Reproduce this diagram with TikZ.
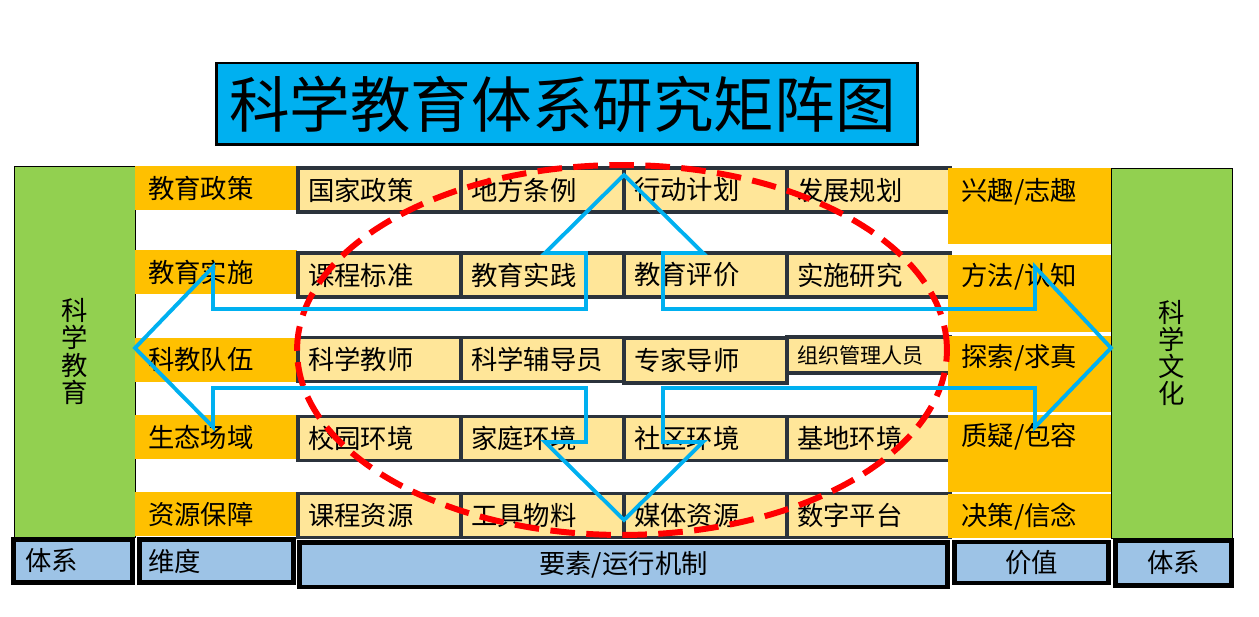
\documentclass[tikz,border=0pt]{standalone}
\usepackage{fontspec}
\setmainfont{Noto Sans CJK SC}
\definecolor{titleblue}{HTML}{00B0F0}
\definecolor{sysgreen}{HTML}{92D050}
\definecolor{dimorange}{HTML}{FFC000}
\definecolor{cellfill}{HTML}{FFE699}
\definecolor{cellline}{HTML}{2B333C}
\definecolor{baseblue}{HTML}{9DC3E6}
\begin{document}
\begin{tikzpicture}[x=0.02cm, y=-0.02cm]
    \tikzstyle{headbox}=[draw, line width=1.7pt, fill=titleblue, minimum height=1.64cm, text width=13.52cm, inner xsep=0.26cm, align=left, font=\fontsize{34.5}{36}\selectfont]
    \tikzstyle{sysbox}=[draw, line width=0.5pt, fill=sysgreen, minimum width=2.42cm, align=center, font=\fontsize{15}{15.5}\selectfont]
    \tikzstyle{dimbox}=[fill=dimorange, minimum height=0.88cm, text width=2.72cm, inner xsep=0.26cm, inner ysep=0pt, align=left, font=\fontsize{15}{15}\selectfont]
    \tikzstyle{cell}=[draw=cellline, line width=2pt, fill=cellfill, minimum height=0.88cm, text width=2.86cm, inner xsep=0.2cm, inner ysep=0pt, align=left, font=\fontsize{15}{15}\selectfont]
    \tikzstyle{valbox}=[fill=dimorange, minimum width=3.26cm, inner sep=0pt]
    \tikzstyle{valtext}=[anchor=west, inner sep=0.08cm, font=\fontsize{15}{15}\selectfont]
    \tikzstyle{footbox}=[draw, line width=2.8pt, fill=baseblue, inner ysep=0pt, font=\fontsize{15}{15}\selectfont]
    \tikzstyle{ring}=[draw=red, line width=3.4pt, dash pattern=on 14pt off 6.5pt]
    \tikzstyle{quad}=[draw=titleblue, line width=2.2pt, line join=miter]

    \useasboundingbox[fill=white] (0,0) rectangle (1259,617);

    \node[headbox] (head) at (567,104) {科学教育体系研究矩阵图};

    \node[sysbox, minimum height=7.42cm] (edu) at (74.5,351.5) {科\\学\\教\\育};
    \node[sysbox, minimum height=7.4cm] (cult) at (1171.5,353) {科\\学\\文\\化};

    \node[dimbox] (policy) at (216,188) {教育政策};
    \node[dimbox] (practice) at (216,272) {教育实施};
    \node[dimbox] (team) at (216,360) {科教队伍};
    \node[dimbox] (field) at (216,437) {生态场域};
    \node[dimbox] (resource) at (216,514.5) {资源保障};

    \node[cell] (p1) at (379.5,190) {国家政策};
    \node[cell] (p2) at (542.5,190) {地方条例};
    \node[cell] (p3) at (705.5,190) {行动计划};
    \node[cell] (p4) at (868.5,190) {发展规划};

    \node[cell] (s1) at (379.5,275) {课程标准};
    \node[cell] (s2) at (542.5,275) {教育实践};
    \node[cell] (s3) at (705.5,275) {教育评价};
    \node[cell] (s4) at (868.5,275) {实施研究};

    \node[cell] (t1) at (379.5,359.5) {科学教师};
    \node[cell] (t2) at (542.5,359.5) {科学辅导员};
    \node[cell, minimum height=0.9cm] (t3) at (705.5,360.5) {专家导师};
    \node[cell, minimum height=0.72cm, font=\fontsize{12}{12}\selectfont] (t4) at (868.5,355) {组织管理人员};

    \node[cell] (f1) at (379.5,438.5) {校园环境};
    \node[cell] (f2) at (542.5,438.5) {家庭环境};
    \node[cell] (f3) at (705.5,438.5) {社区环境};
    \node[cell] (f4) at (868.5,438.5) {基地环境};

    \node[cell] (r1) at (379.5,515.5) {课程资源};
    \node[cell] (r2) at (542.5,515.5) {工具物料};
    \node[cell] (r3) at (705.5,515.5) {媒体资源};
    \node[cell] (r4) at (868.5,515.5) {数字平台};

    \node[valbox, minimum height=1.52cm] (v1) at (1029.5,206) {};
    \node[valbox, minimum height=1.54cm] (v2) at (1029.5,293.5) {};
    \node[valbox, minimum height=1.52cm] (v3) at (1029.5,374) {};
    \node[valbox, minimum height=1.54cm] (v4) at (1029.5,453.5) {};
    \node[valbox, minimum height=0.88cm] (v5) at (1029.5,516) {};
    \node[valtext] (interest) at (957,192) {兴趣/志趣};
    \node[valtext] (method) at (957,277) {方法/认知};
    \node[valtext] (explore) at (957,358) {探索/求真};
    \node[valtext] (doubt) at (957,437) {质疑/包容};
    \node[valtext] (belief) at (957,517) {决策/信念};

    \node[footbox, minimum height=0.86cm, text width=1.92cm, inner xsep=0.23cm, align=left] (sysl) at (73,561) {体系};
    \node[footbox, minimum height=0.86cm, text width=2.74cm, inner xsep=0.17cm, align=left] (dims) at (216.5,561) {维度};
    \node[footbox, minimum width=12.96cm, minimum height=0.89cm] (elem) at (623.5,564.75) {要素/运行机制};
    \node[footbox, minimum width=3.08cm, minimum height=0.82cm] (value) at (1031.5,562.5) {价值};
    \node[footbox, minimum width=2.32cm, minimum height=0.9cm] (sysr) at (1173.5,563) {体系};

    \draw[ring] (622,350) ellipse [x radius=6.5cm, y radius=3.7cm];

    \draw[quad] (624,175) -- (703,253) -- (663,253) -- (663,309) -- (1035,309)
        -- (1035,267) -- (1111,348) -- (1035,427) -- (1035,388) -- (663,388)
        -- (663,442) -- (703,442) -- (624,520) -- (545,442) -- (586,442)
        -- (586,388) -- (213,388) -- (213,427) -- (135,348) -- (213,267)
        -- (213,309) -- (586,309) -- (586,253) -- (545,253) -- cycle;
\end{tikzpicture}
\end{document}
